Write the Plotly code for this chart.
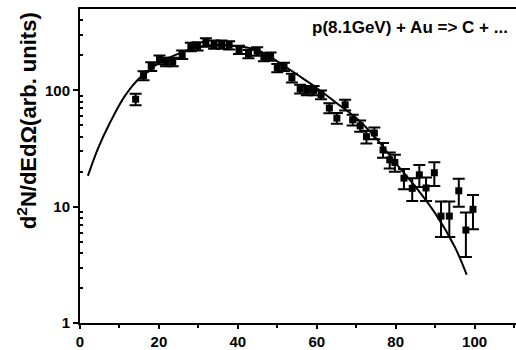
import plotly.graph_objects as go

# Data points (energy, yield, error)
x_pts = [14.1, 16.1, 18.05, 20.15, 21.8, 23.5, 25.9, 28.1, 29.8, 31.9, 34.0, 35.9, 37.8,
         40.3, 42.7, 44.9, 46.6, 48.3, 50.0, 51.7, 53.7, 55.8, 57.5, 59.2, 61.1, 63.2,
         65.1, 67.2, 69.1, 71.0, 72.6, 74.6, 76.8, 78.5, 79.8, 82.1, 84.2, 86.0, 87.7,
         89.8, 91.5, 93.6, 96.0, 97.8, 99.6]
y_pts = [84, 134, 161, 184, 176, 176, 203, 237, 240, 259, 248, 248, 245,
         224, 206, 217, 194, 196, 156, 160, 128, 103, 100, 100, 92, 70.5,
         57.8, 75.3, 55.9, 49.6, 40, 43, 30.8, 25.3, 24, 17.6, 14.4, 18.8, 14.5,
         19.6, 8.3, 8.3, 13.7, 6.3, 9.5]
y_err = [9.5, 12, 14, 16, 15, 15, 17, 20, 20, 22, 20, 20, 20,
         18, 17, 18, 16, 16, 13, 13, 11, 9, 9, 9, 8, 7,
         6, 8, 6, 5.5, 5, 5, 4.5, 4, 4, 3.5, 3.2, 4, 3.3,
         4.5, 2.8, 2.8, 3.7, 2.6, 3.1]

# Fit curve samples
x_fit = [2, 4.6, 7.56, 11.3, 15.1, 16.8, 20, 25, 30, 35, 40, 45, 50, 55, 60, 65, 70,
         75, 80, 85, 90, 95, 98]
y_fit = [18.4, 31.9, 52.4, 88.8, 128, 141, 172, 207, 236, 246, 239, 222, 178, 137, 105,
         78, 57.8, 38.9, 23.7, 14.9, 8.8, 4.5, 2.6]

x_ticks = [0, 20, 40, 60, 80, 100]
y_ticks = [1, 10, 100]
y_minor = [v * d for d in [1, 10, 100] for v in range(2, 10) if v * d < 500]

font_family = "Liberation Sans, Arial, sans-serif"

fig = go.Figure()
fig.add_trace(go.Scatter(
    x=x_fit, y=y_fit, mode="lines", line=dict(color="black", width=2, shape="spline"),
    showlegend=False, hoverinfo="skip"))
fig.add_trace(go.Scatter(
    x=x_pts, y=y_pts, mode="markers",
    marker=dict(symbol="square", size=7, color="black"),
    error_y=dict(type="data", array=y_err, color="black", thickness=2, width=6),
    showlegend=False))

fig.add_annotation(
    x=1, y=1, xref="paper", yref="paper", xanchor="right", yanchor="top",
    xshift=-6, yshift=-7,
    text="<b>p(8.1GeV) + Au => C + ...</b>", showarrow=False,
    font=dict(family=font_family, size=17, color="black"))

fig.add_annotation(
    x=-0.1216, y=0.646, xref="paper", yref="paper", xanchor="center", yanchor="middle",
    textangle=-90, showarrow=False,
    text="<b>d<sup>2</sup>N/dEdΩ(arb. units)</b>",
    font=dict(family=font_family, size=22, color="black"))

fig.update_layout(
    width=516, height=350,
    margin=dict(l=80, r=0, t=9, b=27),
    paper_bgcolor="white", plot_bgcolor="white",
    font=dict(family=font_family, color="black"),
    xaxis=dict(
        range=[0, 110.5], tickvals=x_ticks, ticktext=[f"<b>{v}</b>" for v in x_ticks],
        ticks="outside", ticklen=4, tickwidth=2, tickcolor="black",
        showline=True, linecolor="black", linewidth=2, mirror=True,
        showgrid=False, zeroline=False,
        tickfont=dict(size=15, family=font_family),
        minor=dict(tickvals=[10, 30, 50, 70, 90, 110], ticks="outside", ticklen=3,
                   tickwidth=2, tickcolor="black", showgrid=False),
    ),
    yaxis=dict(
        type="log", range=[0, 2.7], tickvals=y_ticks,
        ticktext=[f"<b>{v}</b>" for v in y_ticks],
        ticks="outside", ticklen=5, tickwidth=2, tickcolor="black",
        showline=True, linecolor="black", linewidth=2, mirror=False,
        showgrid=False, zeroline=False,
        tickfont=dict(size=15, family=font_family),
        minor=dict(tickvals=y_minor, ticks="inside", ticklen=3, tickwidth=2,
                   tickcolor="black", showgrid=False),
    ),
)

fig.write_html("out.html")
